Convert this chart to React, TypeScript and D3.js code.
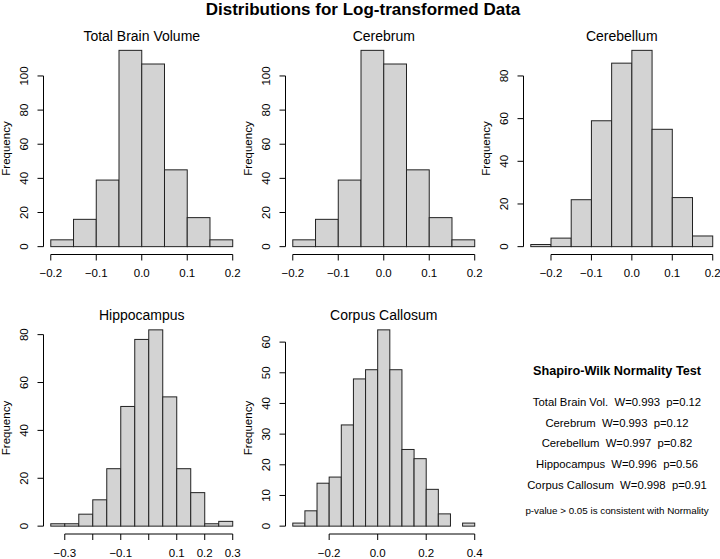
import React from "react";
import * as d3 from "d3";

const W = 720;
const H = 559;
const FONT = "'Liberation Sans', Arial, Helvetica, sans-serif";

const mainTitle = "Distributions for Log-transformed Data";
const panelTitles = ["Total Brain Volume", "Cerebrum", "Cerebellum", "Hippocampus", "Corpus Callosum"];
const binStarts = [-0.2, -0.2, -0.25, -0.35, -0.35];
const binWidth = 0.05;

const totalBrainCounts = [4, 16, 39, 115, 107, 45, 17, 4];
const cerebrumCounts = [4, 16, 39, 115, 107, 45, 17, 4];
const cerebellumCounts = [1, 4, 22, 59, 86, 92, 55, 23, 5];
const hippocampusCounts = [1, 1, 5, 11, 24, 50, 78, 82, 54, 24, 14, 1, 2];
const corpusCallosumCounts = [1, 5, 14, 16, 33, 48, 51, 64, 51, 25, 22, 12, 4, 0, 1];
const allCounts = [totalBrainCounts, cerebrumCounts, cerebellumCounts, hippocampusCounts, corpusCallosumCounts];

const xTickValues = [
  [-0.2, -0.1, 0, 0.1, 0.2],
  [-0.2, -0.1, 0, 0.1, 0.2],
  [-0.2, -0.1, 0, 0.1, 0.2],
  [-0.3, -0.2, -0.1, 0, 0.1, 0.2, 0.3],
  [-0.2, 0, 0.2, 0.4],
];
const xTickLabels = [
  ["−0.2", "−0.1", "0.0", "0.1", "0.2"],
  ["−0.2", "−0.1", "0.0", "0.1", "0.2"],
  ["−0.2", "−0.1", "0.0", "0.1", "0.2"],
  ["−0.3", "", "−0.1", "", "0.1", "0.2", "0.3"],
  ["−0.2", "0.0", "0.2", "0.4"],
];
const yTickValues = [
  [0, 20, 40, 60, 80, 100],
  [0, 20, 40, 60, 80, 100],
  [0, 20, 40, 60, 80],
  [0, 20, 40, 60, 80],
  [0, 10, 20, 30, 40, 50, 60],
];

const testTitle = "Shapiro-Wilk Normality Test";
const testNames = ["Total Brain Vol.", "Cerebrum", "Cerebellum", "Hippocampus", "Corpus Callosum"];
const testW = ["0.993", "0.993", "0.997", "0.996", "0.998"];
const testP = ["0.12", "0.12", "0.82", "0.56", "0.91"];
const testNote = "p-value > 0.05 is consistent with Normality";

const panelLeft = [43.5, 285.5, 523.5, 43.5, 285.5];
const panelTop = [42.5, 42.5, 42.5, 322, 322];
const PW = 196.5;
const PH = 212;

function Panel({ i }: { i: number }) {
  const counts = allCounts[i];
  const b0 = binStarts[i];
  const b1 = b0 + counts.length * binWidth;
  const xr = b1 - b0;
  const left = panelLeft[i];
  const top = panelTop[i];
  const x = d3.scaleLinear().domain([b0 - 0.04 * xr, b1 + 0.04 * xr]).range([left, left + PW]);
  const maxC = d3.max(counts) as number;
  const y = d3.scaleLinear().domain([-0.04 * maxC, maxC * 1.04]).range([top + PH, top]);
  const xt = xTickValues[i];
  const yt = yTickValues[i];
  const axisY = top + PH;
  const axisX = left;
  return (
    <g>
      <text x={left + PW / 2} y={top - 1.8} textAnchor="middle" fontSize={14} fontFamily={FONT}>
        {panelTitles[i]}
      </text>
      {counts.map((c, k) => {
        const xa = x(b0 + k * binWidth);
        const xb = x(b0 + (k + 1) * binWidth);
        return (
          <rect key={k} x={xa} y={y(c)} width={xb - xa} height={y(0) - y(c)}
            fill="#d3d3d3" stroke="#222" strokeWidth={1} />
        );
      })}
      {/* x axis */}
      <line x1={x(xt[0])} x2={x(xt[xt.length - 1])} y1={axisY} y2={axisY} stroke="#000" strokeWidth={1} />
      {xt.map((v, k) => (
        <g key={k}>
          <line x1={x(v)} x2={x(v)} y1={axisY} y2={axisY + 6} stroke="#000" strokeWidth={1} />
          <text x={x(v)} y={axisY + 22.5} textAnchor="middle" fontSize={11.5} fontFamily={FONT}>
            {xTickLabels[i][k]}
          </text>
        </g>
      ))}
      {/* y axis */}
      <line x1={axisX} x2={axisX} y1={y(yt[0])} y2={y(yt[yt.length - 1])} stroke="#000" strokeWidth={1} />
      {yt.map((v, k) => (
        <g key={k}>
          <line x1={axisX - 6} x2={axisX} y1={y(v)} y2={y(v)} stroke="#000" strokeWidth={1} />
          <text transform={`translate(${axisX - 15.5},${y(v)}) rotate(-90)`} textAnchor="middle"
            fontSize={11.5} fontFamily={FONT}>
            {String(v)}
          </text>
        </g>
      ))}
      <text transform={`translate(${axisX - 33.5},${top + PH / 2}) rotate(-90)`} textAnchor="middle"
        fontSize={11.5} fontFamily={FONT}>
        Frequency
      </text>
    </g>
  );
}

export default function App() {
  const cx = 617;
  const lineY = d3.scaleLinear().domain([0, 4]).range([406, 488.7]);
  return (
    <div style={{ position: "absolute", left: 0, top: 0 }}>
      <svg width={W} height={H} viewBox={`0 0 ${W} ${H}`} style={{ display: "block", background: "#fff" }}>
        <rect x={0} y={0} width={W} height={H} fill="#fff" />
        <text x={363} y={15} textAnchor="middle" fontSize={17} fontWeight="bold" fontFamily={FONT}>
          {mainTitle}
        </text>
        {allCounts.map((_, i) => (
          <Panel key={i} i={i} />
        ))}
        <text x={cx} y={375} textAnchor="middle" fontSize={12.7} fontWeight="bold" fontFamily={FONT}>
          {testTitle}
        </text>
        {testNames.map((n, k) => (
          <text key={k} x={cx} y={lineY(k)} textAnchor="middle" fontSize={11.3} fontFamily={FONT}
            style={{ whiteSpace: "pre" }} xmlSpace="preserve">
            {`${n}  W=${testW[k]}  p=${testP[k]}`}
          </text>
        ))}
        <text x={cx} y={514} textAnchor="middle" fontSize={9.8} fontFamily={FONT}>
          {testNote}
        </text>
      </svg>
    </div>
  );
}
